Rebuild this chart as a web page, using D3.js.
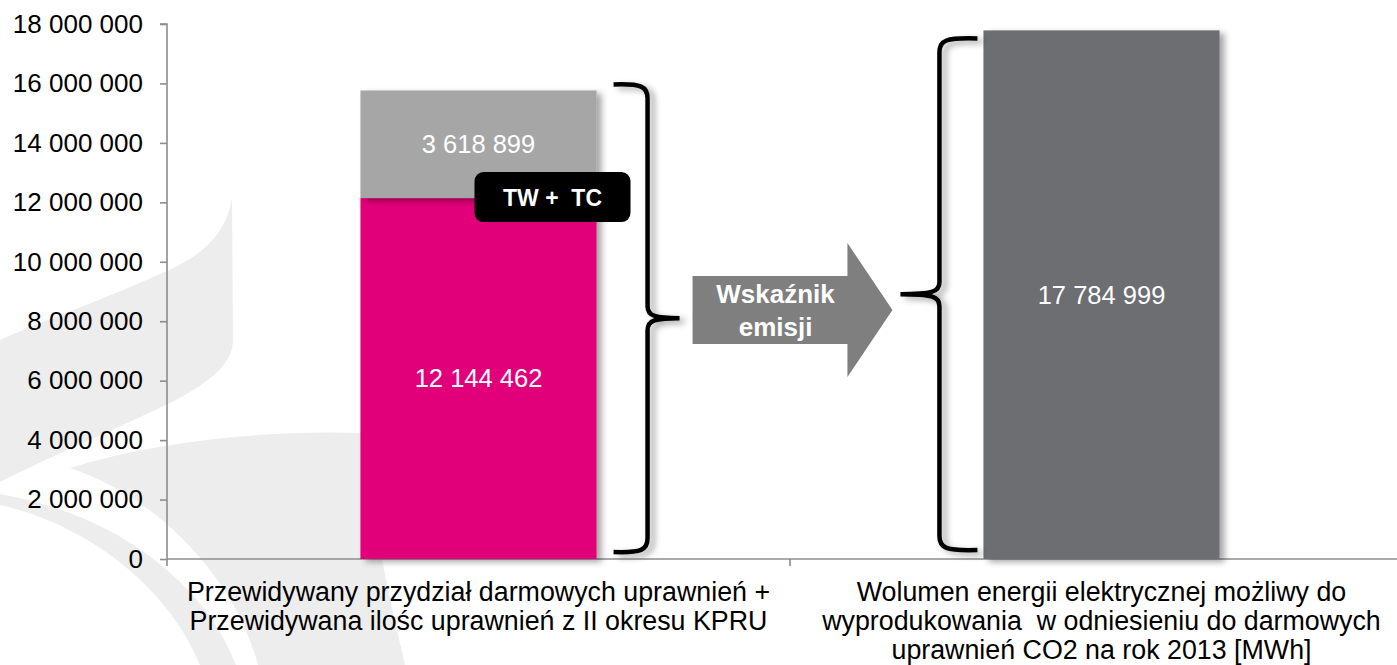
<!DOCTYPE html>
<html>
<head>
<meta charset="utf-8">
<script src="https://cdn.jsdelivr.net/npm/d3@7"></script>
<style>
  body { margin: 0; background: #fff; }
  svg { display: block; font-family: "Liberation Sans", Arial, sans-serif; }
</style>
</head>
<body>
<script>
// chart data
var categories = ["przydzial", "wolumen"];
var categoryLines = [
    ["Przewidywany przydział darmowych uprawnień +", "Przewidywana ilośc uprawnień z II okresu KPRU"],
    ["Wolumen energii elektrycznej możliwy do", "wyprodukowania  w odniesieniu do darmowych", "uprawnień CO2 na rok 2013 [MWh]"]
];
var allowanceValues = [12144462, 0];   // pink
var kpruValues = [3618899, 0];         // light grey
var energyValues = [0, 17784999];      // dark grey
var yTicks = [0, 2000000, 4000000, 6000000, 8000000, 10000000, 12000000, 14000000, 16000000, 18000000];

var seriesKeys = ["allowance", "kpru", "energy"];
var seriesColors = { allowance: "#E2007A", kpru: "#A6A6A6", energy: "#6D6E71" };

var width = 1397, height = 665;
var svg = d3.select("body").append("svg")
    .attr("width", width)
    .attr("height", height);

//shadow used on bars and braces
var defs = svg.append("defs");
defs.append("filter").attr("id", "shadow")
    .attr("x", "-10%").attr("y", "-10%").attr("width", "130%").attr("height", "130%")
  .append("feDropShadow")
    .attr("dx", 5).attr("dy", 3).attr("stdDeviation", 3)
    .attr("flood-color", "#000").attr("flood-opacity", 0.35);

//faint background watermark
var mark = svg.append("g").attr("fill", "#EDEDED");
mark.append("path").attr("d", "M232,198 C226,238 196,258 167,271 C110,297 45,320 0,340 L0,482 C60,452 125,425 172,402 C214,380 233,362 233,340 Z");
mark.append("path").attr("d", "M70,468 C160,440 270,430 362,433 C372,520 390,600 405,665 L258,665 C236,580 160,498 70,468 Z");
mark.append("path").attr("d", "M0,505 C90,525 170,590 200,665 L236,665 C205,585 120,515 0,494 Z");

var x = d3.scaleBand().domain(categories).range([167, 1413]).padding(0);
var y = d3.scaleLinear().domain([0, 18000000]).range([559, 24]);
var barW = x.bandwidth() * 0.379;
var barX = function(c) { return x(c) + (x.bandwidth() - barW) / 2; };

//table for stacking
var table = categories.map(function(c, i) {
    return { cat: c, allowance: allowanceValues[i], kpru: kpruValues[i], energy: energyValues[i] };
});
var stacked = d3.stack().keys(seriesKeys)(table);

var fmt = function(d) { return d3.format(",")(d).replace(/,/g, " "); };

//axes
var yAxis = svg.append("g")
    .attr("transform", "translate(167,0)")
    .call(d3.axisLeft(y).tickValues(yTicks).tickSize(7).tickPadding(17).tickFormat(fmt));
yAxis.selectAll("text").attr("font-size", 26).attr("fill", "#000").attr("font-family", "Liberation Sans, Arial, sans-serif");
yAxis.selectAll("line, path").attr("stroke", "#8C8C8C").attr("stroke-width", 1.6);
yAxis.select("path").attr("d", "M-7," + y(18000000) + "H0V" + y(0));

svg.append("line")
    .attr("x1", 167).attr("x2", width).attr("y1", y(0)).attr("y2", y(0))
    .attr("stroke", "#8C8C8C").attr("stroke-width", 1.6);
//category boundary ticks
svg.selectAll(".ctick").data(categories)
  .enter().append("line")
    .attr("x1", function(d) { return x(d); }).attr("x2", function(d) { return x(d); })
    .attr("y1", y(0)).attr("y2", y(0) + 7)
    .attr("stroke", "#8C8C8C").attr("stroke-width", 1.6);

//bars
var layers = svg.selectAll(".layer").data(stacked)
  .enter().append("g")
    .attr("class", "layer")
    .attr("fill", function(d) { return seriesColors[d.key]; });
layers.selectAll("rect")
    .data(function(d) { return d.filter(function(p) { return p[1] - p[0] > 0; }); })
  .enter().append("rect")
    .attr("x", function(d) { return barX(d.data.cat); })
    .attr("width", barW)
    .attr("y", function(d) { return y(d[1]); })
    .attr("height", function(d) { return y(d[0]) - y(d[1]); })
    .attr("filter", "url(#shadow)");

//value labels
stacked.forEach(function(layer) {
    layer.forEach(function(p) {
        if (p[1] - p[0] <= 0) return;
        svg.append("text")
            .attr("x", barX(p.data.cat) + barW / 2)
            .attr("y", (y(p[0]) + y(p[1])) / 2)
            .attr("dy", "0.35em")
            .attr("text-anchor", "middle")
            .attr("fill", "#fff")
            .attr("font-size", 25.5)
            .text(fmt(p[1] - p[0]));
    });
});

//category labels
categoryLines.forEach(function(lines, i) {
    var t = svg.append("text")
        .attr("text-anchor", "middle")
        .attr("font-size", 26.8)
        .attr("fill", "#000")
        .style("white-space", "pre");
    lines.forEach(function(line, j) {
        t.append("tspan")
            .attr("x", x(categories[i]) + x.bandwidth() / 2)
            .attr("y", 601 + j * 29)
            .text(line);
    });
});

//TW + TC box on the stack boundary
var boundaryY = y(allowanceValues[0]);
var cx1 = barX(categories[0]) + barW / 2;
svg.append("rect")
    .attr("x", cx1 - 4).attr("y", boundaryY - 26)
    .attr("width", 156).attr("height", 50)
    .attr("rx", 9).attr("fill", "#000");
svg.append("text")
    .attr("x", cx1 + 74).attr("y", boundaryY)
    .attr("dy", "0.35em")
    .attr("text-anchor", "middle")
    .attr("font-weight", "bold").attr("font-size", 23).attr("fill", "#fff")
    .style("white-space", "pre")
    .text("TW +  TC");

//braces
function brace(xEnd, xLine, xTip, yTop, yBot) {
    var yMid = (yTop + yBot) / 2, s = xLine > xEnd ? 1 : -1;
    return "M" + xEnd + "," + yTop +
        " C" + (xLine - s * 6) + "," + (yTop - 1) + " " + xLine + "," + (yTop + 2) + " " + xLine + "," + (yTop + 14) +
        " L" + xLine + "," + (yMid - 12) +
        " C" + xLine + "," + (yMid - 2) + " " + (xLine + s * 8) + "," + yMid + " " + xTip + "," + yMid +
        " C" + (xLine + s * 8) + "," + yMid + " " + xLine + "," + (yMid + 2) + " " + xLine + "," + (yMid + 12) +
        " L" + xLine + "," + (yBot - 14) +
        " C" + xLine + "," + (yBot - 2) + " " + (xLine - s * 6) + "," + (yBot + 1) + " " + xEnd + "," + yBot;
}
var bar1Right = barX(categories[0]) + barW;
var bar2Left = barX(categories[1]);
var top1 = y(allowanceValues[0] + kpruValues[0]) - 6;
var top2 = y(energyValues[1]) + 8;
svg.append("path")
    .attr("d", brace(bar1Right + 17, bar1Right + 51, bar1Right + 83, top1, y(0) - 7))
    .attr("fill", "none").attr("stroke", "#000").attr("stroke-width", 4.5)
    .attr("filter", "url(#shadow)");
svg.append("path")
    .attr("d", brace(bar2Left - 6, bar2Left - 44, bar2Left - 83, top2, y(0) - 9))
    .attr("fill", "none").attr("stroke", "#000").attr("stroke-width", 4.5)
    .attr("filter", "url(#shadow)");

//arrow between the braces
var ax0 = bar1Right + 96, axTip = bar2Left - 91, ay = 310;
svg.append("path")
    .attr("d", "M" + ax0 + "," + (ay - 34) + "H" + (axTip - 45) + "V" + (ay - 67) +
        "L" + axTip + "," + ay + "L" + (axTip - 45) + "," + (ay + 67) + "V" + (ay + 34) + "H" + ax0 + "Z")
    .attr("fill", "#7F7F7F");
var at = svg.append("text")
    .attr("text-anchor", "middle")
    .attr("font-weight", "bold").attr("font-size", 26).attr("fill", "#fff");
at.append("tspan").attr("x", ax0 + 83).attr("y", ay - 7).text("Wskaźnik");
at.append("tspan").attr("x", ax0 + 83).attr("y", ay + 26).text("emisji");
</script>
</body>
</html>
